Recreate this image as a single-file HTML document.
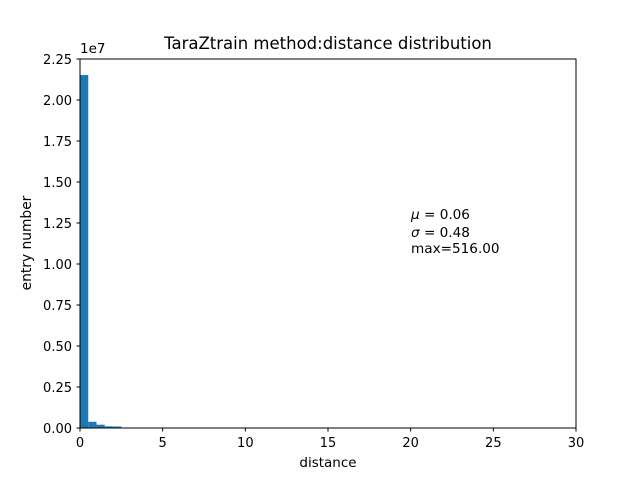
<!DOCTYPE html>
<html><head><meta charset="utf-8"><style>
body{margin:0;background:#fff;}
text{font-family:"DejaVu Sans","Liberation Sans",sans-serif;fill:#000;}
</style></head><body>
<svg id="chart" width="640" height="480">
<rect width="640" height="480" fill="#fff"/>
<text x="328" y="49" font-size="16.5" text-anchor="middle">TaraZtrain method:distance distribution</text>
<g id="bars"></g>
<rect x="80" y="59" width="496" height="369" fill="none" stroke="#000" stroke-width="1"/>
<g id="ticks"></g>
<text x="80" y="53" font-size="13.5">1e7</text>
<text x="328" y="467" font-size="13.5" text-anchor="middle">distance</text>
<text transform="translate(31,243) rotate(-90)" font-size="13.8" text-anchor="middle">entry number</text>
<g font-size="13.6">
<text x="411" y="219"><tspan font-style="italic">μ</tspan> = 0.06</text>
<text x="411" y="237"><tspan font-style="italic">σ</tspan> = 0.48</text>
<text x="411" y="253">max=516.00</text>
</g>
</svg>
<script>
const binStarts=[0,0.5,1,1.5,2,2.5,3];
const binCounts=[2.152e7,380000,200000,100000,90000,20000,10000];
const xTicks=[0,5,10,15,20,25,30];
const yTicks=[0,0.25,0.5,0.75,1.0,1.25,1.5,1.75,2.0,2.25];
const yTickLabels=["0.00","0.25","0.50","0.75","1.00","1.25","1.50","1.75","2.00","2.25"];
const binWidth=0.5;
const X=v=>80+v/30*496, Y=v=>428-v/2.25e7*369;
const ns="http://www.w3.org/2000/svg";
const bars=document.getElementById('bars'), ticks=document.getElementById('ticks');
binStarts.forEach((s,i)=>{
 const r=document.createElementNS(ns,'rect');
 r.setAttribute('x',X(s));r.setAttribute('width',X(s+binWidth)-X(s));
 r.setAttribute('y',Y(binCounts[i]));r.setAttribute('height',428-Y(binCounts[i]));
 r.setAttribute('fill','#1f77b4');
 
 
 bars.appendChild(r);
});
xTicks.forEach(t=>{
 const l=document.createElementNS(ns,'line');
 l.setAttribute('x1',X(t));l.setAttribute('x2',X(t));l.setAttribute('y1',428);l.setAttribute('y2',431.5);l.setAttribute('stroke','#000');
 
 
 ticks.appendChild(l);
 const tx=document.createElementNS(ns,'text');
 tx.setAttribute('x',X(t));tx.setAttribute('y',447);tx.setAttribute('font-size','13');tx.setAttribute('text-anchor','middle');
 tx.textContent=t;
 
 
 ticks.appendChild(tx);
});
yTicks.forEach((t,i)=>{
 const l=document.createElementNS(ns,'line');
 l.setAttribute('x1',76.5);l.setAttribute('x2',80);l.setAttribute('y1',Y(t*1e7));l.setAttribute('y2',Y(t*1e7));l.setAttribute('stroke','#000');
 
 
 ticks.appendChild(l);
 const tx=document.createElementNS(ns,'text');
 tx.setAttribute('x',72);tx.setAttribute('y',Y(t*1e7)+5);tx.setAttribute('font-size','13');tx.setAttribute('text-anchor','end');
 tx.textContent=yTickLabels[i];
 
 
 ticks.appendChild(tx);
});
</script>
</body></html>
